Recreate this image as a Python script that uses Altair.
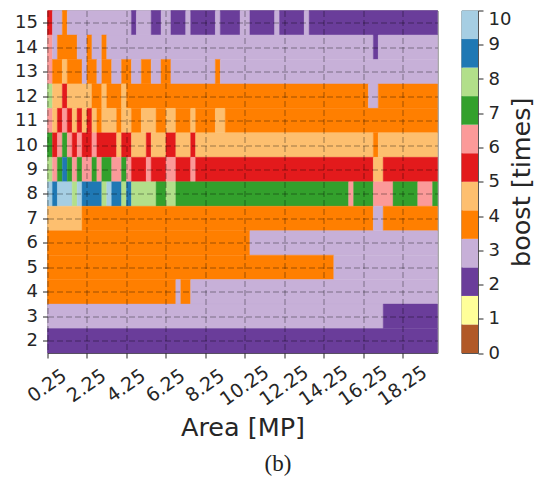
import altair as alt
import pandas as pd

P, L, O, A, R, K, G, H, B, C = 2, 3, 4, 4.5, 5.4, 6.2, 7, 8, 9, 10

paired = ["#b15928", "#ffff99", "#6a3d9a", "#c7b0d8", "#ff7f00", "#fdbf6f",
          "#e31a1c", "#fb9a99", "#33a02c", "#b2df8a", "#1f78b4", "#a6cee3"]
x_ticks = [0.25, 2.25, 4.25, 6.25, 8.25, 10.25, 12.25, 14.25, 16.25, 18.25]
y_ticks = list(range(2, 16))
bar_ticks = list(range(0, 11))

row15 = [(R,1),(L,2),(O,1),(L,13),(P,1),(L,3),(P,2),(L,2),(P,3),(L,1),(P,5),(L,1),(P,4),(L,2),(P,5),(L,1),(P,5),(L,1),(P,26)]
row14 = [(K,1),(L,1),(O,4),(L,2),(O,1),(L,2),(O,1),(L,54),(P,1),(L,12)]
row13 = [(K,1),(O,2),(A,1),(O,3),(L,1),(O,2),(L,1),(O,2),(L,2),(O,2),(L,2),(O,2),(L,2),(O,2),(L,9),(O,1),(L,44)]
row12 = [(H,1),(A,2),(R,1),(A,5),(O,2),(A,1),(O,3),(A,1),(O,49),(L,2),(O,12)]
row11 = [(K,1),(A,1),(R,1),(K,1),(R,1),(A,1),(R,1),(A,1),(R,1),(A,1),(O,1),(A,3),(O,1),(A,2),(O,2),(A,3),(O,2),(A,2),(O,3),(A,1),(O,4),(A,2),(O,43)]
row10 = [(G,1),(R,1),(K,1),(G,1),(K,1),(R,1),(K,1),(R,2),(K,1),(R,4),(A,1),(R,2),(A,3),(R,1),(A,3),(R,2),(A,3),(R,1),(A,36),(O,1),(A,12)]
row9 = [(H,1),(K,1),(G,1),(B,1),(G,1),(K,1),(G,1),(K,2),(G,1),(K,1),(G,2),(K,2),(G,1),(K,1),(R,3),(K,1),(R,3),(K,2),(R,3),(K,1),(R,36),(A,2),(R,11)]
row8 = [(C,1),(B,1),(C,3),(H,1),(C,1),(B,4),(H,1),(C,1),(B,2),(H,1),(B,1),(H,5),(G,2),(H,2),(G,35),(K,1),(G,4),(K,4),(G,5),(K,3),(G,1)]
row7 = [(A,7),(O,59),(L,2),(O,11)]
row6 = [(O,41),(L,38)]
row5 = [(O,58),(L,21)]
row4 = [(O,26),(L,1),(O,2),(L,50)]
row3 = [(L,68),(P,11)]
row2 = [(P,79)]

rows = {15: row15, 14: row14, 13: row13, 12: row12, 11: row11, 10: row10, 9: row9,
        8: row8, 7: row7, 6: row6, 5: row5, 4: row4, 3: row3, 2: row2}

records = []
for r, runs in rows.items():
    start = 0.25
    for v, n in runs:
        records.append({"boost": v, "a0": start, "a1": start + n * 0.25,
                        "r0": r - 0.5, "r1": r + 0.5})
        start += n * 0.25
cells = pd.DataFrame(records)

bar = pd.DataFrame([{"b0": i * 10 / 12, "b1": (i + 1) * 10 / 12, "mid": (i + 0.5) * 10 / 12}
                    for i in range(12)])

FONT = "DejaVu Sans"
INK = "#262626"
color_scale = alt.Scale(type="quantize", domain=[0, 10], range=paired)

main_rect = alt.Chart(cells).mark_rect(strokeWidth=0.4).encode(
    x=alt.X("a0:Q", scale=alt.Scale(domain=[0.25, 20], nice=False, zero=False),
            axis=alt.Axis(values=x_ticks, format=".2f", title="Area [MP]", labelAngle=-35,
                          labelAlign="center", labelBaseline="top", labelPadding=20,
                          labelOffset=-6,
                          labelFontSize=19, titleFontSize=25.5, titlePadding=6,
                          labelFont=FONT, titleFont=FONT, labelColor=INK, titleColor=INK,
                          titleFontWeight="normal", tickColor=INK, tickSize=5, domain=False,
                          labelOverlap=False, labelFlush=False, labelBound=False,
                          grid=True, gridColor="#000000", gridOpacity=0.38, gridDash=[6, 3],
                          gridWidth=1, zindex=1)),
    x2="a1:Q",
    y=alt.Y("r0:Q", scale=alt.Scale(domain=[1.5, 15.5], nice=False, zero=False),
            axis=alt.Axis(values=y_ticks, format="d", title=None, labelFontSize=18,
                          labelFont=FONT, labelColor=INK, tickColor=INK, tickSize=5,
                          labelPadding=5, domain=False, labelOverlap=False, labelFlush=False,
                          labelBound=False, grid=True, gridColor="#000000", gridOpacity=0.38,
                          gridDash=[6, 3], gridWidth=1, zindex=1)),
    y2="r1:Q",
    color=alt.Color("boost:Q", scale=color_scale, legend=None),
    stroke=alt.Color("boost:Q", scale=color_scale, legend=None),
)

caption = alt.Chart(pd.DataFrame({"t": ["(b)"]})).mark_text(
    font="Liberation Serif", fontSize=23, color="#222222", baseline="middle", align="center"
).encode(text="t:N", x=alt.value(230.5), y=alt.value(453))

main = alt.layer(main_rect, caption).properties(width=390, height=342.5)

colorbar = alt.Chart(bar).mark_rect().encode(
    x=alt.value(0),
    x2=alt.value(16.5),
    y=alt.Y("b0:Q", scale=alt.Scale(domain=[0, 10], nice=False),
            axis=alt.Axis(orient="right", values=bar_ticks, format="d", title="boost [times]",
                          titleAngle=-90, titleFontSize=25.5, titleFont=FONT, titleColor=INK,
                          titleFontWeight="normal", titlePadding=24, labelFontSize=18,
                          labelFont=FONT, labelColor=INK, tickColor=INK, tickSize=5,
                          labelPadding=5, domain=False, grid=False, labelOverlap=False,
                          labelBaseline={"condition": {"test": "datum.value == 10", "value": "top"},
                                         "value": "middle"},
                          labelFlush=False, labelBound=False)),
    y2="b1:Q",
    color=alt.Color("mid:Q", scale=color_scale, legend=None),
).properties(width=16.5, height=342.5)

chart = alt.hconcat(main, colorbar, spacing=24, bounds="flush").resolve_scale(
    color="independent", stroke="independent"
).configure_view(stroke="#555555", strokeWidth=1).properties(
    autosize=alt.AutoSizeParams(type="none"),
    padding={"left": 39.5, "top": 2.5, "right": 490, "bottom": 460},
    background="white",
)

chart.save("out.html", embed_options={"renderer": "svg", "actions": False})
